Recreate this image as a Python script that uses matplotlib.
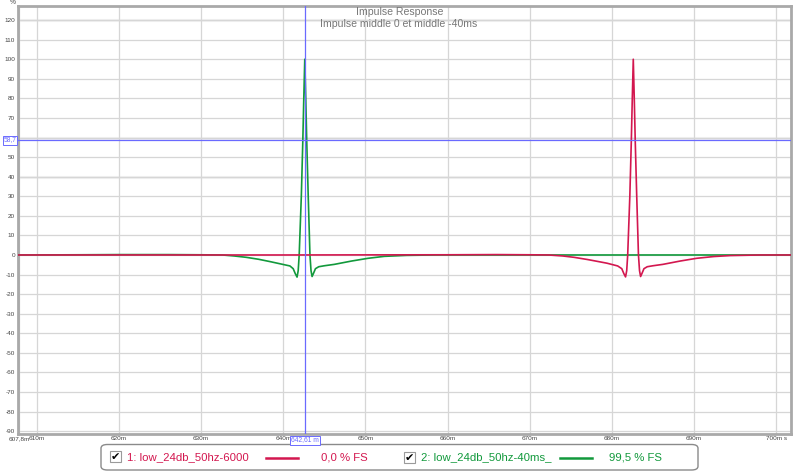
import matplotlib
matplotlib.use("Agg")
import matplotlib.pyplot as plt
from matplotlib.patches import FancyBboxPatch, Rectangle

# ---------------- data ----------------
green_t = [607.7, 615.0, 620.0, 626.0, 630.0, 632.6, 634.0, 635.5, 637.0, 638.4, 639.6, 640.8,
           641.2, 641.45, 641.67, 641.81, 641.93, 642.19, 642.37, 642.49, 642.61, 642.73, 642.85,
           643.03, 643.24, 643.37, 643.5, 643.66, 643.91, 644.31, 645.0, 646.2, 648.3, 650.3,
           652.3, 655.0, 658.4, 680.0, 701.8]
green_v = [0.0, 0.1, 0.2, 0.2, 0.1, 0.0, -0.5, -1.2, -2.2, -3.4, -4.5, -5.6,
           -7.0, -9.5, -11.3, -8.0, 0.0, 30.0, 58.0, 80.0, 100.0, 80.0, 58.0,
           30.0, 0.0, -8.0, -11.0, -9.5, -7.0, -6.0, -5.5, -4.8, -3.1, -1.7,
           -0.7, -0.2, 0.0, 0.0, 0.0]

red_t = [607.7, 640.0, 660.0, 666.0, 670.0, 672.3, 674.0, 675.4, 677.0, 678.4, 679.4, 680.7,
         681.2, 681.45, 681.66, 681.8, 681.92, 682.18, 682.36, 682.48, 682.6, 682.72, 682.84,
         683.02, 683.23, 683.36, 683.49, 683.65, 683.9, 684.3, 685.0, 686.2, 688.3, 690.3,
         692.4, 694.4, 698.0, 701.8]
red_v = [0.0, 0.0, 0.1, 0.2, 0.1, 0.0, -0.5, -1.2, -2.3, -3.4, -4.2, -5.6,
         -7.0, -9.5, -11.2, -8.0, 0.0, 30.0, 58.0, 80.0, 100.0, 80.0, 58.0,
         30.0, 0.0, -8.0, -11.0, -9.5, -7.0, -6.0, -5.5, -4.8, -3.1, -1.7,
         -0.8, -0.3, 0.0, 0.0]

y_ticks = list(range(-90, 130, 10))
# the "60" label is hidden behind the cursor value box in the reference
y_labels = ["" if v == 60 else str(v) for v in y_ticks]
x_ticks = [607.8, 610, 620, 630, 640, 650, 660, 670, 680, 690, 700]
x_labels = ["607,8m", "610m", "620m", "630m", "640m", "650m", "660m", "670m", "680m", "690m", "700m s"]

cursor_x = 642.61
cursor_y = 58.7

title1 = "Impulse Response"
title2 = "Impulse middle 0 et middle -40ms"
leg1_name = "1: low_24db_50hz-6000"
leg1_val = "0,0 % FS"
leg2_name = "2: low_24db_50hz-40ms_"
leg2_val = "99,5 % FS"

RED = "#d3174f"
GREEN = "#12993c"
BLUE = "#6a6aff"
FONT = "Liberation Sans"

W, H = 800, 472
fig = plt.figure(figsize=(W / 100, H / 100), dpi=100)
fig.patch.set_facecolor("white")


def px(x, y):
    return (x / W, 1 - y / H)


ax = fig.add_axes([18 / W, 1 - 433.5 / H, 773 / W, 427.5 / H])
ax.set_xlim(607.7, 701.8)
ax.set_ylim(-91.2, 127.2)

ax.set_yticks(y_ticks)
ax.set_yticklabels(y_labels, fontsize=4.6, color="#444444", family=FONT)
ax.set_xticks(x_ticks)
ax.set_xticklabels(x_labels, fontsize=4.6, color="#444444", family=FONT)
ax.tick_params(length=0, pad=2)
ax.grid(True, color="#d6d6d6", lw=0.9)
ax.set_axisbelow(True)
for v in [120, 60, 40]:
    ax.axhline(v, color="#f1f1f1", lw=2.2, zorder=0.5)
for s in ax.spines.values():
    s.set_color("#a9a9a9")
    s.set_linewidth(2)

ax.plot(green_t, green_v, color=GREEN, lw=1.2, zorder=3)
ax.plot(red_t, red_v, color=RED, lw=1.2, zorder=3)

ax.axvline(cursor_x, color=BLUE, lw=0.9, zorder=4)
ax.axhline(cursor_y, color=BLUE, lw=0.9, zorder=4)

# titles
fig.text(*px(400, 12), title1, ha="center", va="center", fontsize=7.6, color="#777777", family=FONT)
fig.text(*px(399, 24), title2, ha="center", va="center", fontsize=7.6, color="#777777", family=FONT)
fig.text(*px(13, 2.5), "%", ha="center", va="center", fontsize=4.8, color="#444444", family=FONT)

# cursor value boxes
fig.text(*px(10, 140), "58,7", ha="center", va="center", fontsize=4.8, color=BLUE, family=FONT,
         bbox=dict(boxstyle="square,pad=0.15", fc="white", ec=BLUE, lw=0.7))
fig.text(*px(305, 440), "642,61 m", ha="center", va="center", fontsize=4.8, color=BLUE, family=FONT,
         bbox=dict(boxstyle="square,pad=0.15", fc="white", ec=BLUE, lw=0.7))

# legend box
x0, y0, x1, y1 = 101, 444.5, 698, 470
box = FancyBboxPatch(px(x0, y1), (x1 - x0) / W, (y1 - y0) / H,
                     boxstyle="round,pad=0,rounding_size=0.008", transform=fig.transFigure,
                     fc="white", ec="#8a8a8a", lw=1.0)
fig.patches.append(box)


def checkbox(xl, yt):
    r = Rectangle(px(xl, yt + 11), 11 / W, 11 / H, transform=fig.transFigure,
                  fc="white", ec="#9a9a9a", lw=0.8)
    fig.patches.append(r)
    fig.text(*px(xl + 5.8, yt + 5.8), "\u2714", ha="center", va="center", fontsize=8,
             color="black", family="DejaVu Sans")


ly = 457.5
checkbox(110, 451)
fig.text(*px(127, ly), leg1_name, ha="left", va="center", fontsize=8.2, color=RED, family=FONT)
fig.lines.append(plt.Line2D([266 / W, 298 / W], [1 - ly / H, 1 - ly / H], transform=fig.transFigure,
                            color=RED, lw=1.8))
fig.text(*px(321, ly), leg1_val, ha="left", va="center", fontsize=8.2, color=RED, family=FONT)

checkbox(404, 452)
fig.text(*px(421, ly), leg2_name, ha="left", va="center", fontsize=8.2, color=GREEN, family=FONT)
fig.lines.append(plt.Line2D([560 / W, 592 / W], [1 - ly / H, 1 - ly / H], transform=fig.transFigure,
                            color=GREEN, lw=1.8))
fig.text(*px(609, ly), leg2_val, ha="left", va="center", fontsize=8.2, color=GREEN, family=FONT)

fig.savefig("out.png", dpi=100)
